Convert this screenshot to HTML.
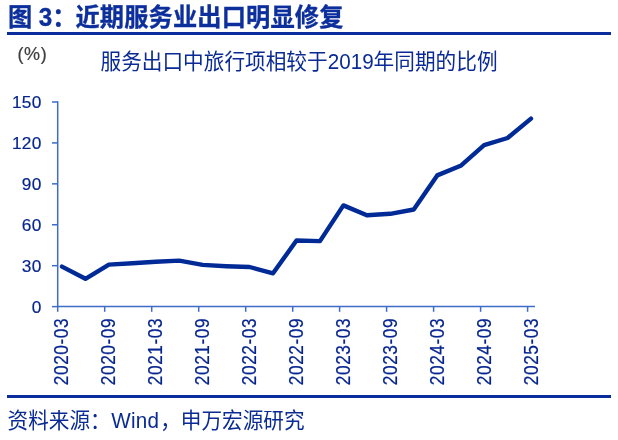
<!DOCTYPE html>
<html lang="zh"><head><meta charset="utf-8"><title>图 3</title>
<style>
html,body{margin:0;padding:0;background:#fff;}
body{width:618px;height:440px;overflow:hidden;position:relative;font-family:"Liberation Sans","Noto Sans CJK SC",sans-serif;}
svg{position:absolute;left:0;top:0;display:block}
svg text{font-family:"Liberation Sans","Noto Sans CJK SC",sans-serif;}
</style></head><body>
<svg width="618" height="440" viewBox="0 0 618 440">
<rect width="618" height="440" fill="#fff"/>
<text transform="translate(8.1,26.1) scale(1.0105,1.06)" font-size="24" font-weight="bold" fill="#0c2f9c" stroke="#0c2f9c" stroke-width="0.3">图<tspan dx="-0.4"> 3：</tspan><tspan dx="-0.9" letter-spacing="0.12">近期服务业出口明显修复</tspan></text>
<rect x="7" y="32" width="604" height="3" fill="#0a2c9c"/>
<text x="17.4" y="60" font-size="18" letter-spacing="0.7" fill="#404040" stroke="#404040" stroke-width="0.2">(%)</text>
<text transform="translate(100.5,68.6) scale(1.003,1.035)" font-size="20.6" fill="#0a2a94">服务出口中旅行项相较于2019年同期的比例</text>
<g stroke="#3d6dc6" stroke-width="1.5" fill="none" stroke-linecap="butt">
<line x1="57.7" x2="57.7" y1="101.2" y2="307"/>
<line x1="57" x2="535" y1="306.62" y2="306.62"/>
<line x1="52.0" x2="57.7" y1="306.62" y2="306.62"/><line x1="52.0" x2="57.7" y1="265.69" y2="265.69"/><line x1="52.0" x2="57.7" y1="224.77" y2="224.77"/><line x1="52.0" x2="57.7" y1="183.84" y2="183.84"/><line x1="52.0" x2="57.7" y1="142.92" y2="142.92"/><line x1="52.0" x2="57.7" y1="101.99" y2="101.99"/>
<line x1="57.7" x2="57.7" y1="306.62" y2="311.8"/><line x1="104.7" x2="104.7" y1="306.62" y2="311.8"/><line x1="151.7" x2="151.7" y1="306.62" y2="311.8"/><line x1="198.7" x2="198.7" y1="306.62" y2="311.8"/><line x1="245.7" x2="245.7" y1="306.62" y2="311.8"/><line x1="292.7" x2="292.7" y1="306.62" y2="311.8"/><line x1="339.6" x2="339.6" y1="306.62" y2="311.8"/><line x1="386.6" x2="386.6" y1="306.62" y2="311.8"/><line x1="433.6" x2="433.6" y1="306.62" y2="311.8"/><line x1="480.6" x2="480.6" y1="306.62" y2="311.8"/><line x1="527.6" x2="527.6" y1="306.62" y2="311.8"/>
</g>
<g font-size="17.3" letter-spacing="0.25" fill="#06258f" stroke="#06258f" stroke-width="0.18"><text x="41.5" y="312.8" text-anchor="end">0</text><text x="41.5" y="271.9" text-anchor="end">30</text><text x="41.5" y="231.0" text-anchor="end">60</text><text x="41.5" y="190.0" text-anchor="end">90</text><text x="41.5" y="149.1" text-anchor="end">120</text><text x="41.5" y="108.2" text-anchor="end">150</text></g>
<g font-size="17.3" letter-spacing="0.55" fill="#06258f" stroke="#06258f" stroke-width="0.18"><text transform="translate(68.0,317.9) rotate(-90) scale(1,1.15)" text-anchor="end">2020-03</text><text transform="translate(115.0,317.9) rotate(-90) scale(1,1.15)" text-anchor="end">2020-09</text><text transform="translate(162.0,317.9) rotate(-90) scale(1,1.15)" text-anchor="end">2021-03</text><text transform="translate(209.0,317.9) rotate(-90) scale(1,1.15)" text-anchor="end">2021-09</text><text transform="translate(256.0,317.9) rotate(-90) scale(1,1.15)" text-anchor="end">2022-03</text><text transform="translate(303.0,317.9) rotate(-90) scale(1,1.15)" text-anchor="end">2022-09</text><text transform="translate(349.9,317.9) rotate(-90) scale(1,1.15)" text-anchor="end">2023-03</text><text transform="translate(396.9,317.9) rotate(-90) scale(1,1.15)" text-anchor="end">2023-09</text><text transform="translate(443.9,317.9) rotate(-90) scale(1,1.15)" text-anchor="end">2024-03</text><text transform="translate(490.9,317.9) rotate(-90) scale(1,1.15)" text-anchor="end">2024-09</text><text transform="translate(537.9,317.9) rotate(-90) scale(1,1.15)" text-anchor="end">2025-03</text></g>
<polyline points="62.00,266.60 85.45,278.80 108.90,264.60 132.35,263.30 155.80,261.70 179.25,260.60 202.70,264.90 226.15,266.20 249.60,267.00 273.05,273.30 296.50,240.50 319.95,241.10 343.40,205.40 366.85,215.30 390.30,213.80 413.75,209.50 437.20,175.40 460.65,165.80 484.10,145.20 507.55,138.00 531.00,118.60" fill="none" stroke="#002a96" stroke-width="4.4" stroke-linejoin="round" stroke-linecap="round"/>
<rect x="7" y="395" width="604" height="3" fill="#0a2c9c"/>
<text transform="translate(7.5,427.7) scale(1,1.035)" font-size="20.65" fill="#0a2a94">资料来源：<tspan dx="0.5" letter-spacing="0.3">Wind</tspan><tspan dx="0.8">，申万宏源研究</tspan></text>
</svg>
</body></html>
